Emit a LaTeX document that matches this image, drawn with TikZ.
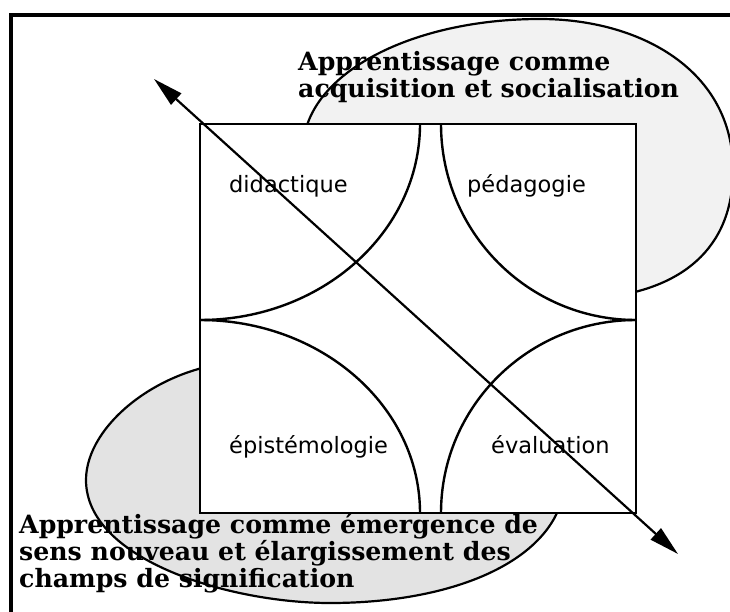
\documentclass[tikz,border=0pt]{standalone}
\usepackage{fontspec}
\usetikzlibrary{arrows.meta}
\newfontfamily\quadfont{DejaVu Sans}
\newfontfamily\titlefont{DejaVu Serif}
\definecolor{topgrey}{HTML}{F2F2F2}
\definecolor{botgrey}{HTML}{E3E3E3}
\begin{document}
\begin{tikzpicture}[x=1pt,y=-1pt,
  frameline/.style={line width=3.4pt},
  blob/.style={draw=black,line width=2.2pt},
  squarebox/.style={draw=black,fill=white,line width=2.6pt},
  arcline/.style={line width=2.4pt},
  quad/.style={font=\quadfont\fontsize{22.5}{27}\selectfont,anchor=base west,inner sep=0pt},
  titleline/.style={font=\titlefont\bfseries\fontsize{25.2}{27}\selectfont,anchor=base west,inner sep=0pt},
  axisarrow/.style={line width=2.2pt,{Triangle[length=30pt,width=15pt]}-{Triangle[length=30pt,width=15pt]}}]

\useasboundingbox (0,0) rectangle (730,612);
\fill[white] (0,0) rectangle (730,612);
\draw[frameline] (11,613) -- (11,15) -- (731,15);

% top blob
\filldraw[blob,fill=topgrey]
  (303,150) .. controls (303,75) and (410,19) .. (540,19)
  .. controls (640,19) and (733,70) .. (733,170)
  .. controls (733,250) and (680,290) .. (600,298)
  .. controls (500,310) and (303,250) .. cycle;

% bottom blob
\filldraw[blob,fill=botgrey]
  (240,362) .. controls (160,366) and (86,425) .. (86,480)
  .. controls (86,560) and (230,603) .. (330,603)
  .. controls (440,603) and (530,570) .. (557,513)
  .. controls (585,440) and (380,355) .. cycle;

% square
\draw[squarebox] (200,124) rectangle (636,513);

% quarter arcs
\draw[arcline] (420,124) arc[start angle=0,end angle=-90,x radius=220pt,y radius=196pt];
\draw[arcline] (441,124) arc[start angle=180,end angle=270,x radius=195pt,y radius=196pt];
\draw[arcline] (200,320) arc[start angle=90,end angle=0,x radius=220pt,y radius=193pt];
\draw[arcline] (441,513) arc[start angle=180,end angle=90,x radius=195pt,y radius=193pt];

% quadrant labels
\node[quad] (did) at (229,193) {didactique};
\node[quad] (ped) at (467,193) {pédagogie};
\node[quad] (epi) at (229,453) {épistémologie};
\node[quad] (eva) at (491,453) {évaluation};

% titles
\node[titleline] (t1a) at (298,71) {Apprentissage comme};
\node[titleline] (t1b) at (298,98) {acquisition et socialisation};
\node[titleline] (t2a) at (19,533) {Apprentissage comme émergence de};
\node[titleline] (t2b) at (19,560) {sens nouveau et élargissement des};
\node[titleline] (t2c) at (19,587) {champs de signification};

% diagonal double arrow
\coordinate (atl) at (154,79);
\coordinate (abr) at (678,554);
\draw[axisarrow] (atl) -- (abr);
\end{tikzpicture}
\end{document}
